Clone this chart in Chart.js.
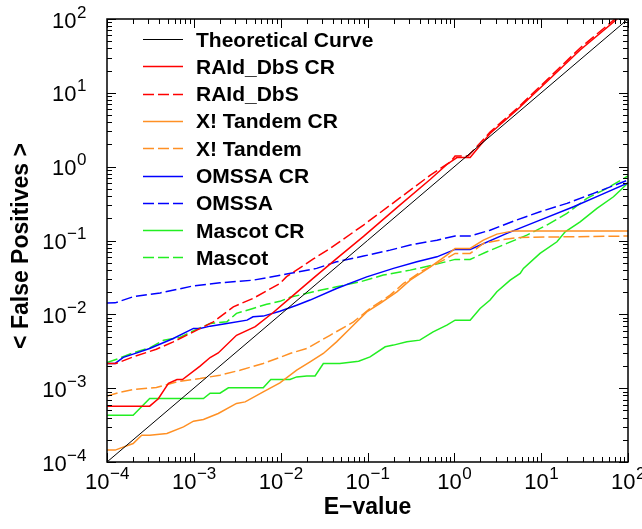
<!DOCTYPE html>
<html>
<head>
<meta charset="utf-8">
<script src="https://cdn.jsdelivr.net/npm/chart.js@4/dist/chart.umd.min.js"></script>
<style>
  html, body { margin: 0; padding: 0; background: #fff; overflow: hidden; }
  #wrap { width: 642px; height: 529px; position: relative; }
</style>
</head>
<body>
<div id="wrap"><canvas id="fp-chart"></canvas></div>
<script>
// axis ticks (decades) and their exponent labels
const xTickValues = [1e-4, 1e-3, 1e-2, 1e-1, 1, 10, 100]
const xTickExp = ['\u22124', '\u22123', '\u22122', '\u22121', '0', '1', '2']
const yTickValues = [1e-4, 1e-3, 1e-2, 1e-1, 1, 10, 100]
const yTickExp = ['\u22124', '\u22123', '\u22122', '\u22121', '0', '1', '2']
const minorFactors = [2, 3, 4, 5, 6, 7, 8, 9]

// Theoretical curve
const theoryX = [1e-4, 100]
const theoryY = [1e-4, 100]

// RAId_DbS CR
const raidCrX = [1e-4, 3.1e-4, 3.9e-4, 5.1e-4, 6.4e-4, 7.4e-4, 1.18e-3, 1.54e-3, 1.91e-3, 3.1e-3, 5.1e-3, 8.2e-3,
  0.0128, 0.0238, 0.044, 0.090, 0.218, 0.53, 0.82, 1.07, 1.52, 2.58, 5.25, 11.6, 28.1, 75.2]
const raidCrY = [5.7e-4, 5.7e-4, 7.2e-4, 1.16e-3, 1.31e-3, 1.31e-3, 1.99e-3, 2.6e-3, 3.0e-3, 5.2e-3, 6.8e-3, 0.0106,
  0.0166, 0.0309, 0.0569, 0.1135, 0.279, 0.676, 1.07, 1.33, 1.33, 2.82, 5.85, 14.1, 38.0, 100]

// RAId_DbS
const raidX = [1e-4, 1.27e-4, 2.0e-4, 3.7e-4, 5.8e-4, 9.9e-4, 1.68e-3, 2.85e-3, 4.8e-3, 9.8e-3, 0.0117, 0.0238,
  0.037, 0.090, 0.218, 0.53, 0.90, 1.02, 1.44, 2.58, 5.25, 11.6, 28.1, 70.8]
const raidY = [2.16e-3, 2.16e-3, 2.65e-3, 3.37e-3, 4.24e-3, 5.8e-3, 7.9e-3, 0.01265, 0.0164, 0.0262, 0.0324, 0.0562,
  0.078, 0.162, 0.352, 0.769, 1.16, 1.39, 1.39, 2.94, 6.12, 14.9, 40.5, 100]

// X! Tandem CR
const tandemCrX = [1e-4, 1.24e-4, 2.0e-4, 2.51e-4, 3.1e-4, 4.9e-4, 7.6e-4, 9.9e-4, 1.29e-3, 1.91e-3, 3.1e-3, 3.9e-3,
  6.3e-3, 9.8e-3, 0.0153, 0.0218, 0.031, 0.044, 0.063, 0.098, 0.14, 0.218, 0.31, 0.53, 0.82, 1.02, 1.52, 2.16,
  3.09, 4.80, 100]
const tandemCrY = [1.45e-4, 1.45e-4, 1.78e-4, 2.31e-4, 2.31e-4, 2.43e-4, 2.99e-4, 3.57e-4, 3.77e-4, 4.54e-4, 6.21e-4,
  6.52e-4, 8.9e-4, 1.18e-3, 1.75e-3, 2.27e-3, 2.95e-3, 4.24e-3, 6.44e-3, 0.0108, 0.0141, 0.0202, 0.029, 0.044,
  0.0634, 0.078, 0.078, 0.101, 0.122, 0.135, 0.135]

// X! Tandem
const tandemX = [1e-4, 1.41e-4, 2.0e-4, 3.7e-4, 6.4e-4, 1.18e-3, 2.0e-3, 3.4e-3, 6.3e-3, 9.8e-3, 0.0128, 0.020,
  0.037, 0.069, 0.107, 0.182, 0.26, 0.44, 0.75, 1.02, 1.52, 2.16, 3.67, 5.73, 100]
const tandemY = [7.8e-4, 8.8e-4, 9.6e-4, 1.02e-3, 1.22e-3, 1.35e-3, 1.5e-3, 1.75e-3, 2.16e-3, 2.61e-3, 2.95e-3,
  3.45e-3, 5.2e-3, 7.9e-3, 0.012, 0.0182, 0.0262, 0.0397, 0.0542, 0.0668, 0.0668, 0.0914, 0.1035, 0.110, 0.115]

// OMSSA CR
const omssaCrX = [1e-4, 1.24e-4, 1.54e-4, 2.0e-4, 3.1e-4, 5.8e-4, 9.9e-4, 1.18e-3, 1.54e-3, 2.4e-3, 4.1e-3, 4.8e-3,
  6.3e-3, 9.8e-3, 0.0153, 0.0218, 0.044, 0.098, 0.199, 0.37, 0.63, 1.02, 1.52, 4.03, 9.7, 23.6, 47.9, 100]
const omssaCrY = [2.16e-3, 2.16e-3, 2.61e-3, 2.89e-3, 3.45e-3, 4.71e-3, 6.44e-3, 6.44e-3, 6.92e-3, 7.53e-3, 8.34e-3,
  9.25e-3, 9.46e-3, 0.011, 0.0133, 0.0156, 0.0224, 0.0322, 0.0419, 0.0514, 0.0601, 0.0757, 0.0757, 0.125, 0.189,
  0.286, 0.412, 0.60]

// OMSSA
const omssaX = [1e-4, 1.24e-4, 2.0e-4, 4.1e-4, 9.9e-4, 2.0e-3, 4.8e-3, 0.0117, 0.026, 0.044, 0.090, 0.182, 0.31,
  0.63, 1.02, 1.52, 2.58, 4.80, 9.7, 19.8, 40.1, 100]
const omssaY = [0.0142, 0.0143, 0.0173, 0.0195, 0.0243, 0.0267, 0.029, 0.0351, 0.0419, 0.0514, 0.0615, 0.0741,
  0.0867, 0.101, 0.115, 0.115, 0.138, 0.183, 0.245, 0.318, 0.435, 0.66]

// Mascot CR
const mascotCrX = [1e-4, 2.0e-4, 3.1e-4, 1.29e-3, 1.54e-3, 2.0e-3, 2.5e-3, 6.3e-3, 7.7e-3, 0.0128, 0.0153, 0.020,
  0.0249, 0.031, 0.048, 0.079, 0.107, 0.16, 0.199, 0.284, 0.40, 0.57, 0.82, 1.02, 1.52, 1.98, 2.58, 3.09, 4.40,
  5.73, 6.25, 9.7, 15.2, 18.9, 28.1, 43.9, 68.1, 100]
const mascotCrY = [4.31e-4, 4.31e-4, 7.24e-4, 7.24e-4, 8.55e-4, 8.55e-4, 1.01e-3, 1.01e-3, 1.31e-3, 1.31e-3, 1.42e-3,
  1.46e-3, 1.46e-3, 2.16e-3, 2.16e-3, 2.32e-3, 2.65e-3, 3.63e-3, 3.83e-3, 4.24e-3, 4.47e-3, 5.79e-3, 7.14e-3,
  8.34e-3, 8.34e-3, 0.012, 0.0156, 0.0202, 0.029, 0.0358, 0.0419, 0.0668, 0.096, 0.131, 0.179, 0.272, 0.391, 0.60]

// Mascot
const mascotX = [1e-4, 1.32e-4, 2.0e-4, 3.1e-4, 4.5e-4, 6.9e-4, 1.03e-3, 1.54e-3, 2.4e-3, 3.1e-3, 4.8e-3, 6.9e-3,
  9.8e-3, 0.0128, 0.0238, 0.044, 0.082, 0.152, 0.31, 0.57, 1.02, 1.52, 2.37, 4.03, 6.84, 11.6, 19.8, 33.6, 57.1, 100]
const mascotY = [2.22e-3, 2.49e-3, 3.01e-3, 3.52e-3, 4.47e-3, 4.86e-3, 6.11e-3, 7.53e-3, 7.91e-3, 0.0103, 0.012,
  0.0137, 0.015, 0.017, 0.0202, 0.0236, 0.0275, 0.034, 0.0397, 0.0465, 0.0555, 0.0555, 0.0703, 0.0914, 0.118,
  0.162, 0.233, 0.372, 0.508, 0.75]

const pts = (xs, ys) => xs.map((x, i) => ({ x: x, y: ys[i] }))

const RED = '#ff0000'
const ORANGE = '#ff9024'
const BLUE = '#0000ff'
const GREEN = '#22ee22'
const DASH = [11, 4]
const FONT = "'Liberation Sans', Arial, Helvetica, sans-serif"

const series = (label, xs, ys, color, dashed, width) => ({
  label: label,
  data: pts(xs, ys),
  borderColor: color,
  backgroundColor: color,
  borderWidth: width || 1.5,
  borderDash: dashed ? DASH : [],
  pointRadius: 0,
  tension: 0,
  fill: false
})

/*
 * frame, inward ticks, power-of-ten labels, axis titles and the legend
 */
const decorations = {
  id: 'decorations',
  afterDraw(chart) {
    const ctx = chart.ctx
    const a = chart.chartArea
    const xs = chart.scales.x
    const ys = chart.scales.y
    ctx.save()
    ctx.strokeStyle = '#000'
    ctx.fillStyle = '#000'

    // ticks
    ctx.lineWidth = 1
    ctx.beginPath()
    const tickAt = (v, major) => {
      const len = major ? 9 : 5
      const px = Math.round(xs.getPixelForValue(v)) + 0.5
      if (px >= a.left - 1 && px <= a.right + 1) {
        ctx.moveTo(px, a.bottom); ctx.lineTo(px, a.bottom - len)
        ctx.moveTo(px, a.top); ctx.lineTo(px, a.top + len)
      }
      const py = Math.round(ys.getPixelForValue(v)) + 0.5
      if (py >= a.top - 1 && py <= a.bottom + 1) {
        ctx.moveTo(a.left, py); ctx.lineTo(a.left + len, py)
        ctx.moveTo(a.right, py); ctx.lineTo(a.right - len, py)
      }
    }
    xTickValues.forEach((v, i) => {
      tickAt(v, true)
      if (i < xTickValues.length - 1) minorFactors.forEach(f => tickAt(v * f, false))
    })
    ctx.stroke()

    // frame
    ctx.lineWidth = 1.5
    ctx.strokeRect(a.left, a.top, a.right - a.left, a.bottom - a.top)

    // tick labels
    const bigFont = '22px ' + FONT
    const smallFont = '17px ' + FONT
    ctx.textBaseline = 'alphabetic'
    ctx.textAlign = 'left'
    const powLabel = (exp, x, y, mode) => {
      ctx.font = bigFont
      const w1 = ctx.measureText('10').width
      ctx.font = smallFont
      const w2 = ctx.measureText(exp).width
      const start = mode === 'center' ? x - (w1 + w2) / 2 : x - (w1 + w2)
      ctx.font = bigFont
      ctx.fillText('10', start, y)
      ctx.font = smallFont
      ctx.fillText(exp, start + w1 + 0.5, y - 10)
    }
    xTickValues.forEach((v, i) => powLabel(xTickExp[i], xs.getPixelForValue(v), 489, 'center'))
    yTickValues.forEach((v, i) => powLabel(yTickExp[i], 86, ys.getPixelForValue(v) + 8.5, 'right'))

    // axis titles
    ctx.font = 'bold 23px ' + FONT
    ctx.textAlign = 'center'
    ctx.fillText('E\u2212value', (a.left + a.right) / 2, 514)
    ctx.save()
    ctx.translate(28, 246)
    ctx.rotate(-Math.PI / 2)
    ctx.fillText('< False Positives >', 0, 0)
    ctx.restore()

    // legend
    ctx.font = 'bold 21px ' + FONT
    ctx.textAlign = 'left'
    chart.data.datasets.forEach((ds, i) => {
      const y = 39 + 27.3 * i
      ctx.save()
      ctx.strokeStyle = ds.borderColor
      ctx.lineWidth = ds.borderWidth
      ctx.setLineDash(ds.borderDash)
      ctx.beginPath()
      ctx.moveTo(143, Math.round(y) + 0.5)
      ctx.lineTo(183, Math.round(y) + 0.5)
      ctx.stroke()
      ctx.restore()
      ctx.fillText(ds.label, 196, y + 7.5)
    })
    ctx.restore()
  }
}

const fpChart = new Chart(document.getElementById('fp-chart').getContext('2d'), {
  type: 'line',
  data: {
    datasets: [
      series('Theoretical Curve', theoryX, theoryY, '#000000', false, 1),
      series('RAId_DbS CR', raidCrX, raidCrY, RED, false),
      series('RAId_DbS', raidX, raidY, RED, true),
      series('X! Tandem CR', tandemCrX, tandemCrY, ORANGE, false),
      series('X! Tandem', tandemX, tandemY, ORANGE, true),
      series('OMSSA CR', omssaCrX, omssaCrY, BLUE, false),
      series('OMSSA', omssaX, omssaY, BLUE, true),
      series('Mascot CR', mascotCrX, mascotCrY, GREEN, false),
      series('Mascot', mascotX, mascotY, GREEN, true)
    ]
  },
  options: {
    responsive: true,
    maintainAspectRatio: false,
    animation: false,
    layout: { padding: { left: 107, top: 19, right: 14, bottom: 67 } },
    plugins: { legend: { display: false }, tooltip: { enabled: false } },
    scales: {
      x: { type: 'logarithmic', min: 1e-4, max: 100, display: false },
      y: { type: 'logarithmic', min: 1e-4, max: 100, display: false }
    }
  },
  plugins: [decorations]
})
</script>
</body>
</html>
